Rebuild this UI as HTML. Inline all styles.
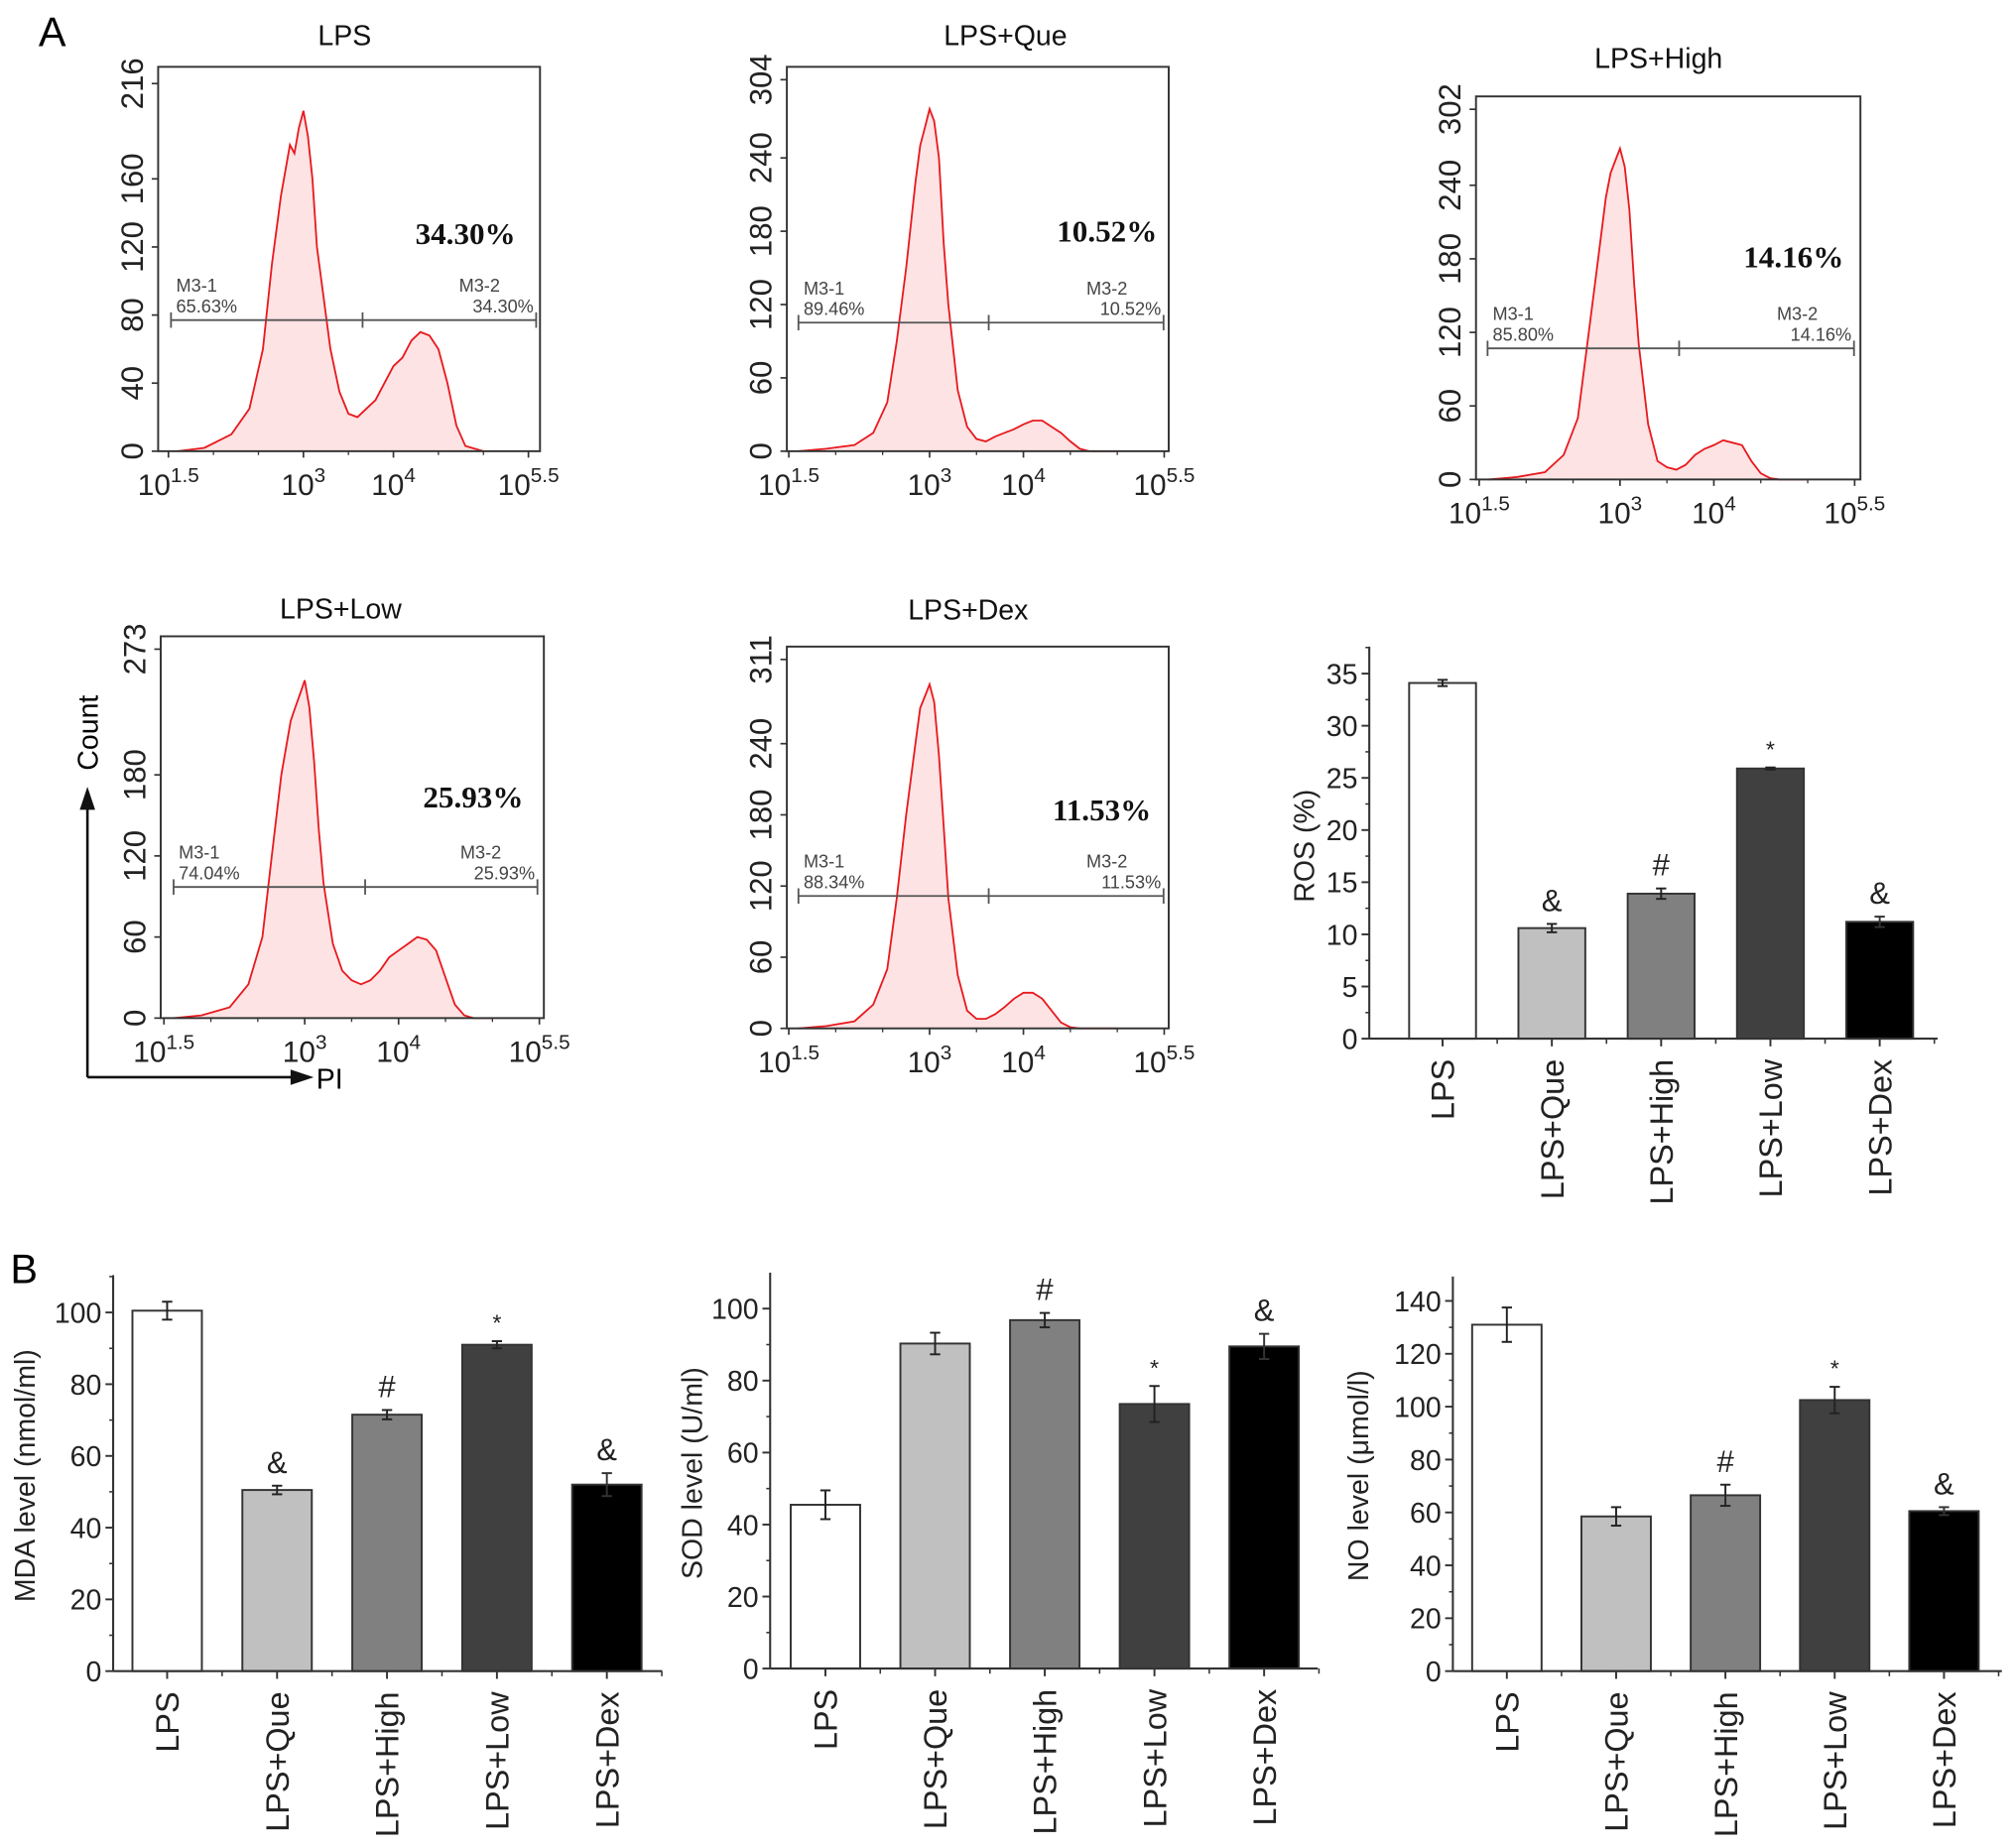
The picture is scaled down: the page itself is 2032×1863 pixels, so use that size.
<!DOCTYPE html>
<html><head><meta charset="utf-8"><style>
html,body{margin:0;padding:0;background:#fff;}
svg{display:block;font-family:"Liberation Sans",Arial,sans-serif;}
</style></head><body>
<svg id="fig" width="2032" height="1863" viewBox="0 0 1568 1437.6" xmlns="http://www.w3.org/2000/svg"></svg>
<script>
// ---------- Data ----------
const groups = ["LPS","LPS+Que","LPS+High","LPS+Low","LPS+Dex"];
const barColors = ["#ffffff","#c0c0c0","#808080","#404040","#000000"];
const rosValues = [34.1,10.6,13.9,25.9,11.2];
const rosErr = [0.3,0.4,0.5,0.1,0.5];
const rosMarks = ["","&","#","*","&"];
const rosTicks = [0,5,10,15,20,25,30,35];
const mdaValues = [100.5,50.5,71.5,91,52];
const mdaErr = [2.5,1.2,1.3,1,3.2];
const mdaMarks = ["","&","#","*","&"];
const mdaTicks = [0,20,40,60,80,100];
const sodValues = [45.5,90.3,96.8,73.5,89.5];
const sodErr = [4,3,2,5,3.5];
const sodMarks = ["","","#","*","&"];
const sodTicks = [0,20,40,60,80,100];
const noValues = [131,58.5,66.5,102.5,60.5];
const noErr = [6.5,3.5,4,5,1.5];
const noMarks = ["","","#","*","&"];
const noTicks = [0,20,40,60,80,100,120,140];
// histogram data: log10 channel positions & counts
const histDecades = [1.6,1.9,2.2,2.4,2.55,2.65,2.75,2.85,2.9,2.95,3.0,3.05,3.1,3.15,3.2,3.3,3.4,3.5,3.6,3.7,3.8,3.9,4.0,4.1,4.2,4.3,4.4,4.5,4.6,4.7,4.8,5.0];
const histLPS  = [0,2,10,25,60,110,150,180,175,190,200,185,160,120,100,60,35,22,20,25,30,40,50,55,65,70,68,60,40,15,3,0];
const histQue  = [0,2,5,15,40,90,150,220,250,265,280,270,240,170,120,50,20,10,8,12,15,18,22,25,25,20,15,8,2,0,0,0];
const histHigh = [0,2,6,20,50,110,170,230,250,260,270,255,220,160,110,45,15,10,8,12,20,25,28,32,30,28,15,5,1,0,0,0];
const histLow  = [0,2,8,25,60,120,180,220,230,240,250,230,190,140,100,55,35,28,25,28,35,45,50,55,60,58,50,30,10,2,0,0];
const histDex  = [0,2,6,20,50,110,180,240,270,280,290,275,230,170,110,45,15,8,8,12,18,25,30,30,25,15,5,1,0,0,0,0];
const histTicksLPS = [0,40,80,120,160,216];
const histTicksQue = [0,60,120,180,240,304];
const histTicksHigh = [0,60,120,180,240,302];
const histTicksLow = [0,60,120,180,273];
const histTicksDex = [0,60,120,180,240,311];
const pctM1 = ["65.63%","89.46%","85.80%","74.04%","88.34%"];
const pctM2 = ["34.30%","10.52%","14.16%","25.93%","11.53%"];

const NS="http://www.w3.org/2000/svg";
const svg=document.getElementById('fig');
function mk(tag,attrs,parent){const e=document.createElementNS(NS,tag);for(const k in attrs)e.setAttribute(k,attrs[k]);(parent||svg).appendChild(e);return e;}
function txt(s,attrs,parent){const e=mk('text',attrs,parent);e.textContent=s;return e;}

// panel letters
let t=txt("A",{x:30,y:36,'font-size':32});


t=txt("B",{x:8,y:998,'font-size':32});



// ---------- Histograms ----------
function hist(cfg,counts,ticks,idx){
  const g=mk('g',{});
  
  
  const {L,R,T,B,topVal,topY,x3,dec}=cfg;
  const ys=v=>B-(B-topY)*v/topVal;
  const xs=d=>x3+(d-3)*dec;
  let pts=histDecades.map((d,i)=>xs(d).toFixed(1)+','+ys(counts[i]).toFixed(1));
  const area=mk('polygon',{points:xs(histDecades[0])+','+B+' '+pts.join(' ')+' '+xs(histDecades[histDecades.length-1])+','+B,fill:'#fde3e3',stroke:'none'},g);
  
  
  const ln=mk('polyline',{points:pts.join(' '),fill:'none',stroke:'#e8191e','stroke-width':1.4},g);
  
  
  const box=mk('rect',{x:L,y:T,width:R-L,height:B-T,fill:'none',stroke:'#333','stroke-width':1.5},g);
  
  
  ticks.forEach(v=>{const y=ys(v);
    mk('line',{x1:L-5,x2:L,y1:y,y2:y,stroke:'#333','stroke-width':1.3},g);
    const tl=txt(String(v),{x:L-12,y:y,'font-size':24,'text-anchor':'middle',transform:`rotate(-90 ${L-12} ${y})`,fill:'#222'},g);
    
    
  });
  [[1.5,'1.5'],[3,'3'],[4,'4'],[5.5,'5.5']].forEach(([d,s])=>{const x=xs(d);
    mk('line',{x1:x,x2:x,y1:B,y2:B+5,stroke:'#333','stroke-width':1.3},g);
    const tl=txt('',{x:x,y:B+34,'font-size':23,'text-anchor':'middle',fill:'#222'},g);
    
    
    const a=mk('tspan',{},tl);a.textContent='10';
    const b=mk('tspan',{dy:-10,'font-size':16},tl);b.textContent=s;
  });
  [2,2.5,3.5,4.5,5].forEach(d=>{const x=xs(d);mk('line',{x1:x,x2:x,y1:B,y2:B+3,stroke:'#333'},g);});
  const gy=cfg.gy;
  const gl=mk('line',{x1:cfg.g1,x2:cfg.g3,y1:gy,y2:gy,stroke:'#555','stroke-width':1.4},g);
  
  
  [cfg.g1,cfg.g2,cfg.g3].forEach(x=>mk('line',{x1:x,x2:x,y1:gy-6,y2:gy+6,stroke:'#555','stroke-width':1.4},g));
  txt("M3-1",{x:cfg.g1+4,y:gy-22,'font-size':14,fill:'#444'},g);
  txt(pctM1[idx],{x:cfg.g1+4,y:gy-6,'font-size':14,fill:'#444'},g);
  txt("M3-2",{x:cfg.g3-60,y:gy-22,'font-size':14,fill:'#444'},g);
  txt(pctM2[idx],{x:cfg.g3-2,y:gy-6,'font-size':14,fill:'#444','text-anchor':'end'},g);
  const p=txt(pctM2[idx],{x:cfg.px,y:cfg.py,'font-size':24,'font-weight':'bold','font-family':'"Liberation Serif",serif','text-anchor':'middle',fill:'#111'},g);
  
  
  const ti=txt(cfg.title,{x:cfg.tx,y:cfg.ty,'font-size':22,'text-anchor':'middle',fill:'#111'},g);
  
  
}
hist({key:'lps',title:'LPS',L:123,R:420,T:52,B:351,topVal:216,topY:65,x3:236,dec:70,gy:249,g1:133,g2:282,g3:417,px:362,py:190,tx:268,ty:35},histLPS,histTicksLPS,0);
hist({key:'que',title:'LPS+Que',L:612,R:909,T:52,B:351,topVal:304,topY:62,x3:723,dec:73,gy:251,g1:621,g2:769,g3:905,px:861,py:188,tx:782,ty:35},histQue,histTicksQue,1);
hist({key:'high',title:'LPS+High',L:1148,R:1447,T:75,B:373,topVal:302,topY:85,x3:1260,dec:73,gy:271,g1:1157,g2:1306,g3:1442,px:1395,py:208,tx:1290,ty:53},histHigh,histTicksHigh,2);
hist({key:'low',title:'LPS+Low',L:125,R:423,T:495,B:792,topVal:273,topY:505,x3:237,dec:73,gy:690,g1:135,g2:284,g3:418,px:368,py:628,tx:265,ty:481},histLow,histTicksLow,3);
hist({key:'dex',title:'LPS+Dex',L:612,R:909,T:503,B:800,topVal:311,topY:513,x3:723,dec:73,gy:697,g1:621,g2:769,g3:905,px:857,py:638,tx:753,ty:482},histDex,histTicksDex,4);

const ax=mk('g',{});


mk('line',{x1:68,y1:838,x2:68,y2:628,stroke:'#111','stroke-width':2},ax);
mk('polygon',{points:'62,630 74,630 68,612',fill:'#111'},ax);
mk('line',{x1:68,y1:838,x2:228,y2:838,stroke:'#111','stroke-width':2},ax);
mk('polygon',{points:'226,832 226,844 244,838',fill:'#111'},ax);
txt('Count',{x:76,y:570,'font-size':22,'text-anchor':'middle',transform:'rotate(-90 76 570)'},ax);
txt('PI',{x:246,y:847,'font-size':22},ax);

// ---------- Bar charts ----------
function bars(cfg,vals,errs,marks,ticks){
  const g=mk('g',{});
  
  
  const ys=v=>cfg.y0-(cfg.y0-cfg.yRefPx)*v/cfg.yRef;
  const step=cfg.step, xc=i=>cfg.x0+i*step, bw=cfg.bw;
  vals.forEach((v,i)=>{
    const r=mk('rect',{x:xc(i)-bw/2,y:ys(v),width:bw,height:cfg.y0-ys(v),fill:barColors[i],stroke:'#333','stroke-width':1.5},g);
    
    
    const e=errs[i],y1=ys(v+e),y2=ys(v-e);
    const ec=i==4?'#333':'#222';
    mk('line',{x1:xc(i),x2:xc(i),y1:y1,y2:y2,stroke:ec,'stroke-width':1.5},g);
    mk('line',{x1:xc(i)-4,x2:xc(i)+4,y1:y1,y2:y1,stroke:ec,'stroke-width':1.5},g);
    mk('line',{x1:xc(i)-4,x2:xc(i)+4,y1:y2,y2:y2,stroke:ec,'stroke-width':1.5},g);
    if(marks[i]){const m=txt(marks[i],{x:xc(i),y:y1-(marks[i]=='*'?8:10),'font-size':marks[i]=='*'?18:24,'text-anchor':'middle',fill:'#222'},g);
      
      }
    const cl=txt(groups[i],{x:xc(i)+9,y:cfg.y0+16,'font-size':25,'text-anchor':'end',transform:`rotate(-90 ${xc(i)+9} ${cfg.y0+16})`,fill:'#222'},g);
    
    
    mk('line',{x1:xc(i),x2:xc(i),y1:cfg.y0,y2:cfg.y0+6,stroke:'#333','stroke-width':1.5},g);
    mk('line',{x1:xc(i)+step/2,x2:xc(i)+step/2,y1:cfg.y0,y2:cfg.y0+4,stroke:'#333','stroke-width':1.2},g);
  });
  mk('line',{x1:cfg.ax,x2:cfg.ax,y1:cfg.top,y2:cfg.y0,stroke:'#333','stroke-width':1.6},g);
  mk('line',{x1:cfg.ax,x2:cfg.xr,y1:cfg.y0,y2:cfg.y0,stroke:'#333','stroke-width':1.6},g);
  const d=ticks[1]-ticks[0];
  ticks.forEach(v=>{const y=ys(v);
    mk('line',{x1:cfg.ax-6,x2:cfg.ax,y1:y,y2:y,stroke:'#333','stroke-width':1.5},g);
    const my=ys(v+d/2); if(my>cfg.top) mk('line',{x1:cfg.ax-3,x2:cfg.ax,y1:my,y2:my,stroke:'#333','stroke-width':1.2},g);
    const tl=txt(String(v),{x:cfg.ax-9,y:y+8,'font-size':22,'text-anchor':'end',fill:'#222'},g);
    
    
  });
  const yl=txt(cfg.ylabel,{x:cfg.ylx,y:cfg.yly,'font-size':22,'text-anchor':'middle',transform:`rotate(-90 ${cfg.ylx} ${cfg.yly})`,fill:'#222'},g);
  
  
}
bars({key:'ros',x0:1122,step:85,bw:52,y0:808,yRef:35,yRefPx:524,ax:1065,xr:1507,top:503,ylabel:'ROS (%)',ylx:1022,yly:658},rosValues,rosErr,rosMarks,rosTicks);
bars({key:'mda',x0:130,step:85.5,bw:54,y0:1300,yRef:100,yRefPx:1021,ax:88,xr:515,top:992,ylabel:'MDA level (nmol/ml)',ylx:27,yly:1148},mdaValues,mdaErr,mdaMarks,mdaTicks);
bars({key:'sod',x0:642,step:85.3,bw:54,y0:1298,yRef:100,yRefPx:1018,ax:599,xr:1025,top:990,ylabel:'SOD level (U/ml)',ylx:546,yly:1146},sodValues,sodErr,sodMarks,sodTicks);
bars({key:'no',x0:1172,step:85,bw:54,y0:1300,yRef:140,yRefPx:1012,ax:1130,xr:1557,top:993,ylabel:'NO level (\u03bcmol/l)',ylx:1064,yly:1148},noValues,noErr,noMarks,noTicks);
</script>
</body></html>
